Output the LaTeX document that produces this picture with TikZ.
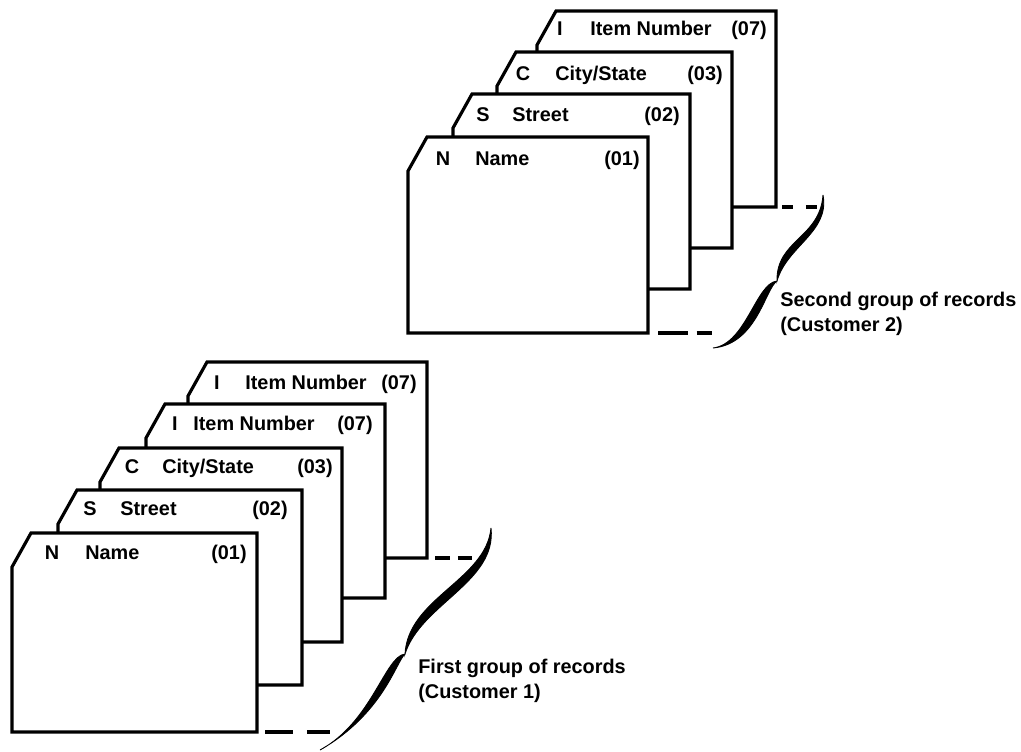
\documentclass[tikz,border=0pt]{standalone}
\usepackage{fontspec}
\setmainfont{Liberation Sans}
\usetikzlibrary{calc}

% one record card: name, left, top, right, bottom
\newcommand{\recordcard}[5]{%
  \filldraw[cardline] (#2+19,#3) -- (#4,#3) -- (#4,#5) -- (#2,#5) -- (#2,#3+34) -- cycle;
  \coordinate (#1-se) at (#4,#5);
}

\begin{document}
\begin{tikzpicture}[
    x=0.02cm, y=-0.02cm,
    cardline/.style={
        draw=black,
        fill=white,
        line width=1.8pt
    },
    cardkey/.style={
        font=\bfseries\fontsize{11.3}{13}\selectfont,
        inner sep=0pt,
        text height=8pt,
        text depth=0pt,
        anchor=center
    },
    cardfield/.style={cardkey, anchor=west},
    cardcode/.style={cardkey, anchor=east},
    gapline/.style={line width=1.8pt},
    brace/.style={fill=black, draw=black, line width=0.5pt},
    note/.style={
        font=\bfseries\fontsize{11.3}{14.2}\selectfont,
        align=left,
        anchor=north west,
        inner sep=0pt
    }
]
\useasboundingbox (0,0) rectangle (1021,751);

% second group (Customer 2)
\recordcard{t4}{537}{11}{776}{207}
\node[cardkey] (t4-key) at (560,28) {I};
\node[cardfield] (t4-field) at (590,28) {Item Number};
\node[cardcode] (t4-code) at (767,28) {(07)};

\recordcard{t3}{497}{52}{732}{248}
\node[cardkey] (t3-key) at (523,73) {C};
\node[cardfield] (t3-field) at (555,73) {City/State};
\node[cardcode] (t3-code) at (723,73) {(03)};

\recordcard{t2}{453}{94}{690}{289}
\node[cardkey] (t2-key) at (483,114) {S};
\node[cardfield] (t2-field) at (512,114) {Street};
\node[cardcode] (t2-code) at (680,114) {(02)};

\recordcard{t1}{408}{137}{648}{333}
\node[cardkey] (t1-key) at (443,158) {N};
\node[cardfield] (t1-field) at (475,158) {Name};
\node[cardcode] (t1-code) at (640,158) {(01)};

\draw[gapline, dash pattern=on 6.2pt off 7.4pt] ($(t4-se)+(6,0)$) -- ++(35,0);
\draw[gapline, dash pattern=on 17pt off 5pt] ($(t1-se)+(10,0)$) -- ++(54,0);

\coordinate (br2-top) at (823,195);
\coordinate (br2-mid) at (777,281);
\coordinate (br2-end) at (713,348);
\filldraw[brace] (br2-top) .. controls (820,238) and (776,240) .. (br2-mid)
    .. controls (787,246) and (830,232) .. (br2-top);
\filldraw[brace] (br2-mid) .. controls (756,283) and (746,344) .. (br2-end)
    .. controls (757,344) and (765,289) .. (br2-mid);

\node[note] (group2) at (780,292) {Second group of records\\(Customer 2)};

% first group (Customer 1)
\recordcard{b5}{188}{362}{427}{558}
\node[cardkey] (b5-key) at (217,382) {I};
\node[cardfield] (b5-field) at (245,382) {Item Number};
\node[cardcode] (b5-code) at (417,382) {(07)};

\recordcard{b4}{146}{404}{385}{598}
\node[cardkey] (b4-key) at (175,423) {I};
\node[cardfield] (b4-field) at (193,423) {Item Number};
\node[cardcode] (b4-code) at (373,423) {(07)};

\recordcard{b3}{100}{448}{342}{642}
\node[cardkey] (b3-key) at (132,466) {C};
\node[cardfield] (b3-field) at (162,466) {City/State};
\node[cardcode] (b3-code) at (333,466) {(03)};

\recordcard{b2}{58}{490}{302}{685}
\node[cardkey] (b2-key) at (90,508) {S};
\node[cardfield] (b2-field) at (120,508) {Street};
\node[cardcode] (b2-code) at (288,508) {(02)};

\recordcard{b1}{12}{533}{257}{732}
\node[cardkey] (b1-key) at (52,552) {N};
\node[cardfield] (b1-field) at (85,552) {Name};
\node[cardcode] (b1-code) at (247,552) {(01)};

\draw[gapline, dash pattern=on 8.5pt off 4.5pt] ($(b5-se)+(8,0)$) -- ++(37,0);
\draw[gapline, dash pattern=on 15.9pt off 7.9pt] ($(b1-se)+(8,0)$) -- ++(65,0);

\coordinate (br1-top) at (491,528);
\coordinate (br1-mid) at (405,654);
\coordinate (br1-end) at (320,750);
\filldraw[brace] (br1-top) .. controls (486,580) and (408,598) .. (br1-mid)
    .. controls (421,604) and (497,582) .. (br1-top);
\filldraw[brace] (br1-mid) .. controls (385,656) and (372,722) .. (br1-end)
    .. controls (383,714) and (396,662) .. (br1-mid);

\node[note] (group1) at (418,659) {First group of records\\(Customer 1)};

\end{tikzpicture}
\end{document}
